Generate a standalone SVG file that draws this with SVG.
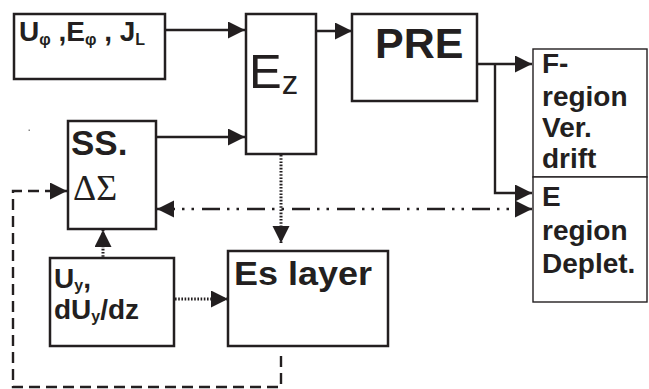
<svg xmlns="http://www.w3.org/2000/svg" width="649" height="389" viewBox="0 0 649 389">
<style>
.box{fill:#fff;stroke:#231f20;stroke-width:2.5}
.thin{fill:#fff;stroke:#231f20;stroke-width:1.4}
.t{font-family:"Liberation Sans",Arial,sans-serif;font-weight:bold;fill:#231f20}
.r{font-family:"Liberation Sans",Arial,sans-serif;fill:#231f20}
.s{font-family:"Liberation Serif","Times New Roman",serif;fill:#231f20}
.c{fill:none;stroke:#231f20;stroke-width:2.4}
.dash{stroke-dasharray:11 6}
.dot{stroke-width:3;stroke-dasharray:1.6 1.6}
.dd{stroke-dasharray:18 7 2.5 7 2.5 8}
</style>
<defs>
<marker id="ah" markerUnits="userSpaceOnUse" markerWidth="18" markerHeight="18" refX="17" refY="8.5" orient="auto-start-reverse">
<path d="M0,0 L17,8.5 L0,17 z" fill="#231f20"/>
</marker>
</defs>
<rect x="28.5" y="129.5" width="1.5" height="1.5" fill="#888"/>
<g id="connectors">
<path class="c" d="M157,30 H245" marker-end="url(#ah)"/>
<path class="c" d="M156,137 H245" marker-end="url(#ah)"/>
<path class="c" d="M316,31 H352" marker-end="url(#ah)"/>
<path class="c" d="M477,64 H532" marker-end="url(#ah)"/>
<path class="c" d="M495,64 V193 H532" marker-end="url(#ah)"/>
<path class="c dd" d="M157,209 H532" marker-start="url(#ah)" marker-end="url(#ah)"/>
<path class="c dot" d="M281,155 V243" marker-end="url(#ah)"/>
<path class="c dot" d="M103,260 V230" marker-end="url(#ah)"/>
<path class="c dot" d="M175,299 H228" marker-end="url(#ah)"/>
<path class="c dash" d="M281,356 V387 H13 V191 H67" marker-end="url(#ah)"/>
</g>
<g id="inputs">
<rect class="box" x="14" y="14" width="151" height="65"/>
<text class="t" x="19" y="41" font-size="28">U<tspan font-size="16" dy="4">φ</tspan><tspan dy="-4"> ,E</tspan><tspan font-size="16" dy="4">φ</tspan><tspan dy="-4"> , J</tspan><tspan font-size="16" dy="4">L</tspan></text>
</g>
<g id="ez">
<rect class="box" x="246" y="14" width="70" height="140"/>
<text class="r" x="249" y="88" font-size="49">E<tspan font-size="33" dy="6">z</tspan></text>
</g>
<g id="pre">
<rect class="box" x="352" y="14" width="125" height="87"/>
<text class="t" x="375" y="58" font-size="43">PRE</text>
</g>
<g id="fregion">
<rect class="thin" x="533" y="49" width="114" height="128"/>
<text class="t" x="542" y="73" font-size="28">F-</text>
<text class="t" x="542" y="106" font-size="28">region</text>
<text class="t" x="542" y="137" font-size="28">Ver.</text>
<text class="t" x="542" y="168" font-size="28">drift</text>
</g>
<g id="eregion">
<rect class="thin" x="533" y="177" width="114" height="125"/>
<text class="t" x="542" y="206" font-size="28">E</text>
<text class="t" x="542" y="240" font-size="28">region</text>
<text class="t" x="542" y="273" font-size="28">Deplet.</text>
</g>
<g id="ss">
<rect class="box" x="68" y="121" width="88" height="108"/>
<text class="t" x="71" y="155" font-size="35">SS.</text>
<text class="s" x="73" y="200" font-size="36">ΔΣ</text>
</g>
<g id="uy">
<rect class="box" x="50" y="258" width="124" height="88"/>
<text class="t" x="54" y="288" font-size="28">U<tspan font-size="16" dy="3">y</tspan><tspan dy="-3">,</tspan></text>
<text class="t" x="54" y="319" font-size="28">dU<tspan font-size="16" dy="3">y</tspan><tspan dy="-3">/dz</tspan></text>
</g>
<g id="es">
<rect class="box" x="228" y="251" width="160" height="95"/>
<text class="t" x="234" y="285" font-size="34" textLength="138" lengthAdjust="spacingAndGlyphs">Es layer</text>
</g>
</svg>
